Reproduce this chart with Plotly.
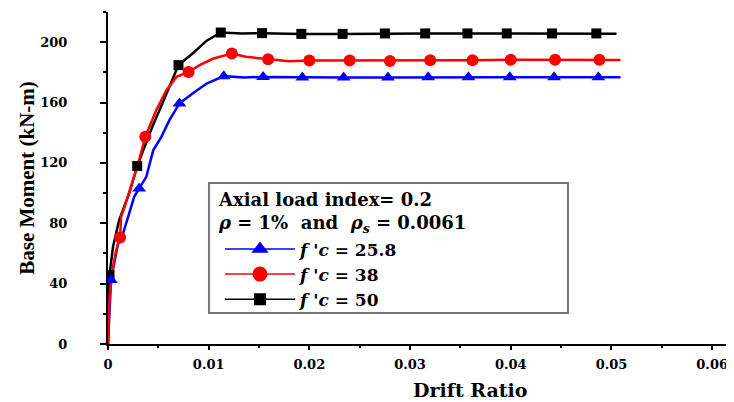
import plotly.graph_objects as go

# ---------------- data ----------------
x_tick_vals = [0, 0.01, 0.02, 0.03, 0.04, 0.05, 0.06]
x_tick_text = ["0", "0.01", "0.02", "0.03", "0.04", "0.05", "0.06"]
y_tick_vals = [0, 40, 80, 120, 160, 200]
y_tick_text = ["0", "40", "80", "120", "160", "200"]

series_names = ["<i>f 'c</i> = 25.8", "<i>f 'c</i> = 38", "<i>f 'c</i> = 50"]
legend_heading = "Axial load index= 0.2<br><i>ρ</i> = 1%\u00a0 and\u00a0 <i>ρ<sub>s</sub></i> = 0.0061"

# f'c = 25.8 (blue triangles)
x_fc25 = [0, 0.0003, 0.001, 0.0015, 0.0021, 0.0026, 0.0031, 0.0038, 0.0045, 0.0053,
          0.0061, 0.0071, 0.0084, 0.0098, 0.0115, 0.0135, 0.0154, 0.0193, 0.0234,
          0.0278, 0.0318, 0.0358, 0.0399, 0.0443, 0.0487, 0.0509]
y_fc25 = [0, 42.4, 66.7, 73.3, 86.5, 97.5, 103.1, 110.8, 128.5, 137.3,
          148.3, 159.4, 166, 172.6, 177.5, 176.6, 177, 176.6, 176.6,
          176.6, 176.8, 176.8, 176.8, 176.8, 176.8, 176.8]
mk_fc25 = [1, 6, 11, 14, 16, 17, 18, 19, 20, 21, 22, 23, 24]

# f'c = 38 (red circles)
x_fc38 = [0, 0.00005, 0.00015, 0.0005, 0.0008, 0.0012, 0.0013, 0.0016, 0.0025, 0.003,
          0.0037, 0.0048, 0.0058, 0.0068, 0.008, 0.0091, 0.0104, 0.0123, 0.0137, 0.0159,
          0.018, 0.02, 0.024, 0.028, 0.032, 0.0362, 0.04, 0.0444, 0.0488, 0.0509]
y_fc38 = [0, 20, 31, 51, 62, 70.5, 84.3, 89.9, 108.6, 119.7,
          137.3, 155, 168.2, 177, 180.3, 184.8, 189, 192.5, 190.3, 188.7,
          187.4, 187.9, 187.9, 187.6, 188, 188, 188.3, 188.3, 188.3, 188.2]
mk_fc38 = [5, 10, 14, 17, 19, 21, 22, 23, 24, 25, 26, 27, 28]

# f'c = 50 (black squares)
x_fc50 = [0, 0.00005, 0.00015, 0.0005, 0.0011, 0.0021, 0.0029, 0.0044, 0.0054, 0.0061,
          0.007, 0.0084, 0.0098, 0.0112, 0.0133, 0.0153, 0.0192, 0.0233, 0.0275, 0.0315,
          0.0357, 0.0396, 0.0441, 0.0485, 0.0505]
y_fc50 = [0, 38, 45.7, 64.4, 82, 99.8, 117.9, 144, 159.4, 170.4,
          184.8, 192.5, 201, 206.4, 205.8, 206, 205.5, 205.5, 205.8, 205.8,
          205.8, 205.8, 205.8, 205.8, 205.6]
mk_fc50 = [2, 6, 10, 13, 15, 16, 17, 18, 19, 20, 21, 22, 23]

# ---------------- styles ----------------
styles = [
    dict(x=x_fc25, y=y_fc25, mk=mk_fc25, color="#0000FF", symbol="triangle-up", size=12, lsize=15),
    dict(x=x_fc38, y=y_fc38, mk=mk_fc38, color="#FF0000", symbol="circle", size=12, lsize=15),
    dict(x=x_fc50, y=y_fc50, mk=mk_fc50, color="#000000", symbol="square", size=10, lsize=12),
]

fig = go.Figure()

draw_order = [2, 0, 1]  # black under, red on top
for i in draw_order:
    s = styles[i]
    fig.add_trace(go.Scatter(x=s["x"], y=s["y"], mode="lines",
                             line=dict(color=s["color"], width=2.5),
                             showlegend=False, hoverinfo="skip"))
for i in draw_order:
    s = styles[i]
    fig.add_trace(go.Scatter(x=[s["x"][k] for k in s["mk"]],
                             y=[s["y"][k] for k in s["mk"]],
                             mode="markers",
                             marker=dict(color=s["color"], symbol=s["symbol"], size=s["size"]),
                             showlegend=False))
# legend entries
for i, s in enumerate(styles):
    fig.add_trace(go.Scatter(x=[None], y=[None], mode="lines+markers", name=series_names[i],
                             line=dict(color=s["color"], width=1.5),
                             marker=dict(color=s["color"], symbol=s["symbol"], size=s["lsize"])))

tick_font = dict(family="DejaVu Serif", size=13, color="black", weight="bold")

# the page body has an 8px margin, so the figure is offset by 8px in the window
fig.update_layout(
    width=726, height=394,
    margin=dict(l=100, r=0, t=4, b=58, autoexpand=False),
    paper_bgcolor="white", plot_bgcolor="white",
    xaxis=dict(range=[0, 0.06217], tickvals=x_tick_vals, ticktext=x_tick_text, automargin=False,
               showline=True, linewidth=2, linecolor="black", mirror=False,
               ticks="outside", ticklen=4, tickwidth=2, tickcolor="black",
               minor=dict(dtick=0.005, tick0=0, ticks="outside", ticklen=2, tickwidth=1.5, tickcolor="black"),
               showgrid=False, zeroline=False, tickfont=tick_font, ticklabelstandoff=3),
    yaxis=dict(range=[0, 220], tickvals=y_tick_vals, ticktext=y_tick_text, automargin=False,
               showline=True, linewidth=2, linecolor="black",
               ticks="outside", ticklen=6, tickwidth=2, tickcolor="black",
               minor=dict(dtick=20, tick0=0, ticks="outside", ticklen=3, tickwidth=1.5, tickcolor="black"),
               showgrid=False, zeroline=False, tickfont=tick_font, ticklabelstandoff=30,
               title=dict(text="Base Moment (kN-m)", standoff=0,
                          font=dict(family="Liberation Serif", size=21, color="black", weight="bold"))),
    legend=dict(x=0.1789, y=0.339, xanchor="left", yanchor="top",
                bgcolor="rgba(0,0,0,0)", borderwidth=0, itemwidth=70,
                font=dict(family="DejaVu Serif", size=17, color="black", weight="bold"),
                tracegroupgap=0),
    shapes=[dict(type="rect", xref="paper", yref="paper", x0=0.1613, x1=0.7348, y0=0.0934, y1=0.4849,
                 line=dict(color="#777777", width=2), fillcolor="white", layer="above")],
    annotations=[
        dict(text=legend_heading, xref="paper", yref="paper", x=0.1725, y=0.473,
             xanchor="left", yanchor="top", align="left", showarrow=False,
             font=dict(family="DejaVu Serif", size=18, color="black", weight="bold")),
        dict(text="Drift Ratio", xref="paper", yref="paper", x=0.578, y=-0.138,
             xanchor="center", yanchor="middle", showarrow=False,
             font=dict(family="DejaVu Serif", size=19, color="black", weight="bold")),
    ],
)

fig.write_html("out.html")
